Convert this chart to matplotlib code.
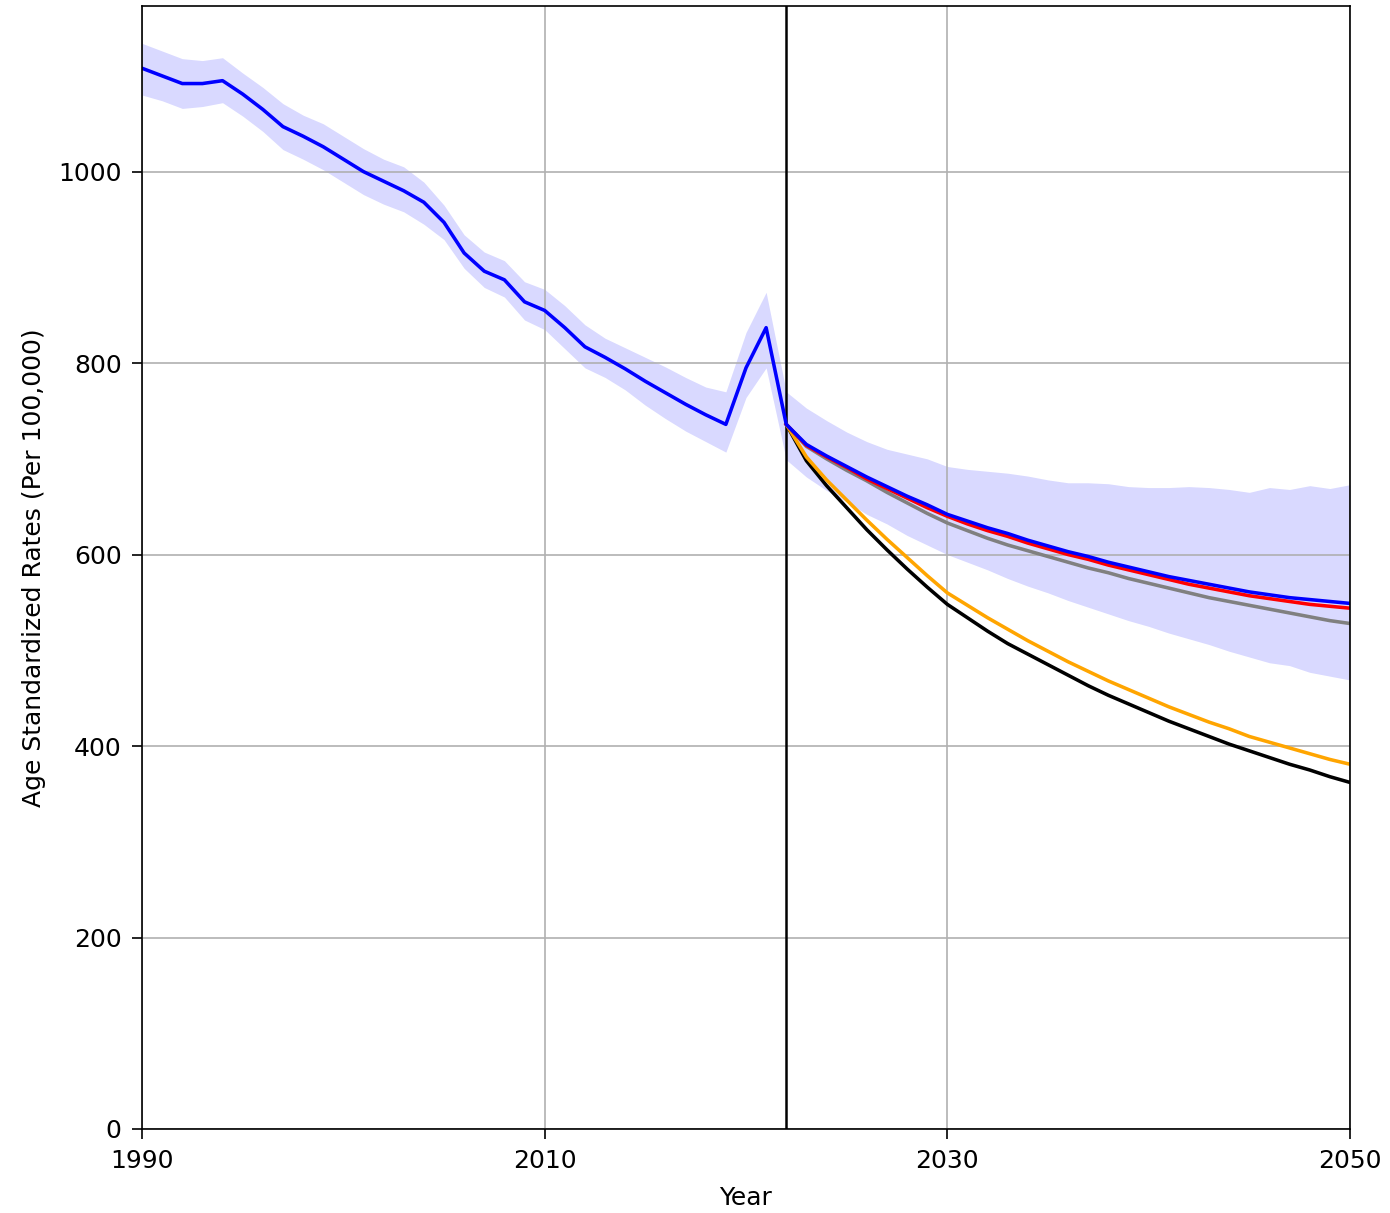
import numpy as np
import matplotlib
matplotlib.use("Agg")
import matplotlib.pyplot as plt

# --- Historical estimates (1990-2021) ---
hist_years = np.arange(1990, 2022)
hist_rate = [1108, 1100, 1092, 1092, 1095, 1081, 1065, 1047, 1037, 1026,
             1013, 1000, 990, 980, 968, 947, 915, 896, 887, 864,
             855, 837, 817, 806, 794, 781, 769, 757, 746, 736,
             795, 837]
hist_upper = [1134, 1126, 1118, 1116, 1119, 1103, 1088, 1071, 1059, 1050,
              1037, 1024, 1013, 1005, 989, 965, 934, 916, 907, 885,
              877, 860, 840, 826, 816, 806, 796, 785, 775, 770,
              832, 874]
hist_lower = [1080, 1074, 1066, 1068, 1072, 1058, 1042, 1023, 1013, 1002,
              989, 976, 966, 958, 945, 929, 899, 879, 869, 845,
              835, 815, 795, 785, 772, 756, 742, 729, 718, 707,
              764, 795]

# --- Projections (2022-2050) ---
proj_years = np.arange(2022, 2051)
proj_blue = [736, 715, 703, 692, 681, 671, 661, 652, 642, 635,
             628, 622, 615, 609, 603, 598, 592, 587, 582, 577,
             573, 569, 565, 561, 558, 555, 553, 551, 549]
proj_red = [736, 714, 702, 691, 679, 669, 659, 649, 640, 632,
            625, 619, 612, 606, 600, 595, 589, 584, 579, 574,
            569, 565, 561, 557, 554, 551, 548, 546, 544]
proj_grey = [736, 713, 700, 688, 677, 665, 654, 643, 633, 625,
             617, 610, 604, 598, 592, 586, 581, 575, 570, 565,
             560, 555, 551, 547, 543, 539, 535, 531, 528]
proj_orange = [736, 702, 678, 657, 636, 616, 597, 578, 560, 547,
               534, 522, 510, 499, 488, 478, 468, 459, 450, 441,
               433, 425, 418, 410, 404, 398, 392, 386, 381]
proj_black = [736, 698, 672, 649, 626, 605, 585, 566, 548, 534,
              520, 507, 496, 485, 474, 463, 453, 444, 435, 426,
              418, 410, 402, 395, 388, 381, 375, 368, 362]
proj_upper = [770, 753, 740, 728, 718, 710, 705, 700, 692, 689,
              687, 685, 682, 678, 675, 675, 674, 671, 670, 670,
              671, 670, 668, 665, 670, 668, 672, 669, 673]
proj_lower = [699, 681, 667, 655, 642, 632, 620, 610, 600, 592,
              584, 575, 567, 560, 552, 545, 538, 531, 525, 518,
              512, 506, 499, 493, 487, 484, 477, 473, 469]

years = np.concatenate([hist_years, proj_years])
upper = np.array(hist_upper + proj_upper)
lower = np.array(hist_lower + proj_lower)
central = np.array(hist_rate + proj_blue)

plt.rcParams["font.size"] = 12

fig = plt.figure(figsize=(1390 / 150, 1213 / 150), dpi=150)
ax = fig.add_axes([142 / 1390, 1 - 1129 / 1213, 1208 / 1390, 1123 / 1213])

ax.fill_between(years, lower, upper, color="blue", alpha=0.15, lw=0)
ax.axvline(2022, color="black", lw=1.2)
ax.plot(proj_years, proj_black, color="black", lw=1.7)
ax.plot(proj_years, proj_orange, color="orange", lw=1.7)
ax.plot(proj_years, proj_grey, color="gray", lw=1.7)
ax.plot(proj_years, proj_red, color="red", lw=1.7)
ax.plot(years, central, color="blue", lw=1.7)

ax.set_xlim(1990, 2050)
ax.set_ylim(0, 1173)
ax.set_xticks([1990, 2010, 2030, 2050])
ax.set_yticks(range(0, 1001, 200))
ax.tick_params(length=4.8, pad=5)
ax.grid(True, color="#b0b0b0", lw=0.8)
ax.set_xlabel("Year", labelpad=6)
ax.set_ylabel("Age Standardized Rates (Per 100,000)", labelpad=6)

fig.savefig("out.png", dpi=150)
